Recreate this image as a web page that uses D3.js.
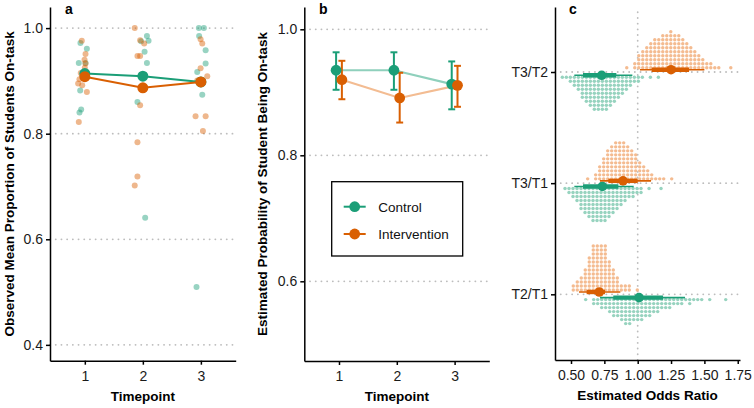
<!DOCTYPE html>
<html>
<head>
<meta charset="utf-8">
<script src="https://cdn.jsdelivr.net/npm/d3@7"></script>
<style>
  body { margin: 0; background: #fff; }
  svg { font-family: "Liberation Sans", Arial, sans-serif; }
  .axis path, .axis line { stroke: #000; stroke-width: 1.5; }
  .axis text { fill: #1a1a1a; font-size: 14px; }
  .title { font-weight: bold; font-size: 13.5px; fill: #000; }
  .tag { font-weight: bold; font-size: 14px; fill: #000; }
  .grid { stroke: #bdbdbd; stroke-width: 1.8; stroke-dasharray: 0.1 5.6; stroke-linecap: round; }
</style>
</head>
<body>
<svg id="chart" width="754" height="408"></svg>
<script>
// ---- data ----
const timepoints = [1, 2, 3];
const groups = ['Control', 'Intervention'];

// panel a: observed means per timepoint
const obsMeanControl = [0.914, 0.909, 0.898];
const obsMeanIntervention = [0.908, 0.887, 0.898];
const obsTicks = [0.4, 0.6, 0.8, 1.0];

// panel a: individual observations [jittered timepoint, proportion]
const obsControl = [
  [0.925, 0.972], [1.035, 0.961], [0.896, 0.934], [1.012, 0.934], [0.92, 0.882], [0.937, 0.846], [0.908, 0.840],
  [2.07, 0.985], [2.098, 0.976], [1.97, 0.975], [2.03, 0.955], [2.07, 0.934], [1.907, 0.860], [2.04, 0.641],
  [2.965, 1.0], [3.052, 1.0], [2.97, 0.985], [3.082, 0.958], [3.082, 0.933], [2.937, 0.917], [3.024, 0.874], [2.925, 0.5095]
];
const obsIntervention = [
  [0.948, 0.976], [1.012, 0.951], [0.995, 0.94], [1.012, 0.933], [0.908, 0.903], [0.885, 0.895], [0.955, 0.892],
  [1.035, 0.879], [0.896, 0.822], [0.93, 0.915], [1.0, 0.925],
  [1.86, 1.0], [1.953, 0.977], [2.023, 0.971], [1.907, 0.947], [1.953, 0.947], [1.953, 0.854], [1.907, 0.784],
  [1.907, 0.719], [1.86, 0.702],
  [2.995, 0.979], [3.024, 0.971], [2.995, 0.924], [3.11, 0.909], [2.937, 0.901], [2.908, 0.833], [3.082, 0.833], [3.035, 0.805]
];

// panel b: model estimates with CI
const estControl = [0.935, 0.935, 0.913];
const estControlLo = [0.904, 0.904, 0.873];
const estControlHi = [0.9635, 0.9635, 0.949];
const estIntervention = [0.920, 0.891, 0.911];
const estInterventionLo = [0.889, 0.852, 0.877];
const estInterventionHi = [0.950, 0.931, 0.942];
const estTicks = [0.6, 0.8, 1.0];

// panel c: odds ratio contrasts (bottom to top)
const contrasts = ['T2/T1', 'T3/T1', 'T3/T2'];
const orControl = [1.01, 0.735, 0.73];
const orControl66 = [[0.817, 1.19], [0.59, 0.855], [0.59, 0.84]];
const orControl95 = [[0.717, 1.355], [0.525, 0.97], [0.525, 0.96]];
const orIntervention = [0.712, 0.89, 1.25];
const orIntervention66 = [[0.617, 0.755], [0.78, 1.0], [1.105, 1.385]];
const orIntervention95 = [[0.56, 0.87], [0.717, 1.10], [1.017, 1.5]];
const orTicks = [0.5, 0.75, 1.0, 1.25, 1.5, 1.75];

// panel c: quantile dotplot columns (first column value, dots per column)
const dotBinWidth = 0.03;
const dotStartControl = [0.61, 0.455, 0.435];
const dotCountsControl = [
  [1, 0, 2, 2, 3, 3, 4, 5, 5, 6, 7, 7, 6, 6, 6, 5, 5, 4, 4, 3, 3, 3, 2, 2, 2, 1, 2, 1, 1, 1, 0, 1, 0, 0, 0, 1],
  [1, 2, 3, 4, 6, 7, 8, 9, 9, 9, 9, 8, 7, 6, 5, 4, 3, 3, 2, 2, 0, 1, 0, 0, 1],
  [1, 1, 2, 3, 4, 6, 7, 8, 9, 9, 9, 9, 8, 7, 6, 5, 4, 3, 2, 2, 1, 0, 1, 0, 1]
];
const dotStartIntervention = [0.517, 0.625, 0.918];
const dotCountsIntervention = [
  [2, 3, 4, 6, 9, 12, 12, 12, 12, 8, 6, 4, 2, 2, 2, 0, 1],
  [1, 0, 2, 4, 6, 8, 9, 10, 10, 10, 9, 8, 7, 5, 4, 3, 2, 1, 1, 1, 0, 1],
  [1, 0, 2, 4, 5, 6, 7, 8, 8, 9, 9, 10, 9, 9, 8, 7, 6, 5, 4, 3, 2, 2, 1, 1, 0, 0, 1]
];

// ---- drawing ----
const green = '#1B9E77';
const orange = '#D95F02';
const svg = d3.select('#chart');

function hGrid(g, xs, ys, vals) {
  g.append('g').selectAll('line').data(vals).join('line')
    .attr('class', 'grid')
    .attr('x1', xs.range()[0]).attr('x2', xs.range()[1])
    .attr('y1', (d) => ys(d)).attr('y2', (d) => ys(d));
}

function axes(g, xs, ys, xAxis, yAxis) {
  g.append('g').attr('class', 'axis')
    .attr('transform', `translate(0, ${ys.range()[0]})`)
    .call(xAxis.tickSize(4).tickSizeOuter(0).tickPadding(6));
  g.append('g').attr('class', 'axis')
    .attr('transform', `translate(${xs.range()[0]}, 0)`)
    .call(yAxis.tickSize(4).tickSizeOuter(0).tickPadding(3));
}

// ===== panel a =====
const ax = d3.scaleLinear().domain([0.4, 3.6]).range([50, 235.7]);
const ay = d3.scaleLinear().domain([0.37, 1.04]).range([360.7, 7]);
const pa = svg.append('g');
hGrid(pa, ax, ay, obsTicks);

pa.append('g').selectAll('circle').data(obsControl).join('circle')
  .attr('cx', (d) => ax(d[0])).attr('cy', (d) => ay(d[1])).attr('r', 3)
  .attr('fill', green).attr('fill-opacity', 0.45);
pa.append('g').selectAll('circle').data(obsIntervention).join('circle')
  .attr('cx', (d) => ax(d[0])).attr('cy', (d) => ay(d[1])).attr('r', 3)
  .attr('fill', orange).attr('fill-opacity', 0.45);

const meanLine = d3.line().x((d, i) => ax(timepoints[i])).y((d) => ay(d));
[[obsMeanControl, green], [obsMeanIntervention, orange]].forEach(([vals, col]) => {
  pa.append('path').attr('d', meanLine(vals)).attr('fill', 'none')
    .attr('stroke', col).attr('stroke-width', 2);
  pa.append('g').selectAll('circle').data(vals).join('circle')
    .attr('cx', (d, i) => ax(timepoints[i])).attr('cy', (d) => ay(d)).attr('r', 5.5)
    .attr('fill', col);
});

axes(pa, ax, ay,
  d3.axisBottom(ax).tickValues(timepoints).tickFormat(d3.format('d')),
  d3.axisLeft(ay).tickValues(obsTicks).tickFormat(d3.format('.1f')));

pa.append('text').attr('class', 'title').attr('text-anchor', 'middle')
  .attr('transform', `translate(13.5, ${ (ay.range()[0] + ay.range()[1]) / 2 }) rotate(-90)`)
  .text('Observed Mean Proportion of Students On-task');
pa.append('text').attr('class', 'title').attr('text-anchor', 'middle')
  .attr('x', (ax.range()[0] + ax.range()[1]) / 2).attr('y', 401).text('Timepoint');
pa.append('text').attr('class', 'tag').attr('x', 65).attr('y', 14).text('a');

// ===== panel b =====
const bx = d3.scaleLinear().domain([0.4, 3.6]).range([304.3, 489.3]);
const by = d3.scaleLinear().domain([0.4735, 1.0354]).range([361, 7]);
const pb = svg.append('g');
hGrid(pb, bx, by, estTicks);

const dodge = 0.05;
const bSeries = [
  { name: groups[0], col: green, light: '#8fd0bc', off: -dodge, est: estControl, lo: estControlLo, hi: estControlHi },
  { name: groups[1], col: orange, light: '#f3bc92', off: dodge, est: estIntervention, lo: estInterventionLo, hi: estInterventionHi }
];
bSeries.forEach((s) => {
  const line = d3.line().x((d, i) => bx(timepoints[i] + s.off)).y((d) => by(d));
  pb.append('path').attr('d', line(s.est)).attr('fill', 'none')
    .attr('stroke', s.light).attr('stroke-width', 2.2);
});
bSeries.forEach((s) => {
  const g = pb.append('g').attr('stroke', s.col).attr('stroke-width', 2);
  timepoints.forEach((t, i) => {
    const x0 = bx(t + s.off - 0.06), x1 = bx(t + s.off + 0.06), xm = bx(t + s.off);
    g.append('line').attr('x1', xm).attr('x2', xm).attr('y1', by(s.lo[i])).attr('y2', by(s.hi[i]));
    g.append('line').attr('x1', x0).attr('x2', x1).attr('y1', by(s.lo[i])).attr('y2', by(s.lo[i]));
    g.append('line').attr('x1', x0).attr('x2', x1).attr('y1', by(s.hi[i])).attr('y2', by(s.hi[i]));
  });
});
bSeries.forEach((s) => {
  pb.append('g').selectAll('circle').data(s.est).join('circle')
    .attr('cx', (d, i) => bx(timepoints[i] + s.off)).attr('cy', (d) => by(d)).attr('r', 5.4)
    .attr('fill', s.col);
});

axes(pb, bx, by,
  d3.axisBottom(bx).tickValues(timepoints).tickFormat(d3.format('d')),
  d3.axisLeft(by).tickValues(estTicks).tickFormat(d3.format('.1f')));

pb.append('text').attr('class', 'title').attr('text-anchor', 'middle')
  .attr('transform', `translate(267, ${ (by.range()[0] + by.range()[1]) / 2 }) rotate(-90)`)
  .text('Estimated Probability of Student Being On-task');
pb.append('text').attr('class', 'title').attr('text-anchor', 'middle')
  .attr('x', (bx.range()[0] + bx.range()[1]) / 2).attr('y', 401).text('Timepoint');
pb.append('text').attr('class', 'tag').attr('x', 319).attr('y', 14).text('b');

// legend
const lg = pb.append('g').attr('transform', 'translate(331.7, 181.7)');
lg.append('rect').attr('width', 131).attr('height', 74.3)
  .attr('fill', '#fff').attr('stroke', '#000').attr('stroke-width', 1.3);
bSeries.forEach((s, i) => {
  const yy = 25 + i * 27.3;
  lg.append('line').attr('x1', 12).attr('x2', 34).attr('y1', yy).attr('y2', yy)
    .attr('stroke', s.col).attr('stroke-width', 2);
  lg.append('circle').attr('cx', 23).attr('cy', yy).attr('r', 5.4).attr('fill', s.col);
  lg.append('text').attr('x', 46.6).attr('y', yy).attr('dy', '0.36em')
    .attr('font-size', 13.5).attr('fill', '#111').text(s.name);
});

// ===== panel c =====
const cx = d3.scaleLinear().domain([0.38, 1.767]).range([555, 740]);
const cy = d3.scaleLinear().domain([-0.591, 2.585]).range([360, 7]);
const pc = svg.append('g');

pc.append('line').attr('class', 'grid')
  .attr('x1', cx(1)).attr('x2', cx(1)).attr('y1', cy.range()[0]).attr('y2', cy.range()[1]);
pc.append('g').selectAll('line').data(contrasts).join('line')
  .attr('class', 'grid')
  .attr('x1', cx.range()[0]).attr('x2', cx.range()[1])
  .attr('y1', (d, i) => cy(i)).attr('y2', (d, i) => cy(i));

function drawDots(start, counts, base, dir, color) {
  const pts = [];
  counts.forEach((n, j) => {
    for (let k = 0; k < n; k++) pts.push({ v: start + j * dotBinWidth, k });
  });
  const step = cx(start + dotBinWidth) - cx(start);
  pc.append('g').selectAll('circle').data(pts).join('circle')
    .attr('cx', (d) => cx(d.v))
    .attr('cy', (d) => base + dir * (d.k + 0.5) * step)
    .attr('r', step * 0.43)
    .attr('fill', color);
}

const cSeries = [
  { col: orange, light: '#f4bb90', off: -2.3, dir: -1, start: dotStartIntervention, counts: dotCountsIntervention,
    est: orIntervention, i66: orIntervention66, i95: orIntervention95 },
  { col: green, light: '#97d3bf', off: 3.3, dir: 1, start: dotStartControl, counts: dotCountsControl,
    est: orControl, i66: orControl66, i95: orControl95 }
];
contrasts.forEach((c, i) => {
  cSeries.forEach((s) => drawDots(s.start[i], s.counts[i], cy(i) + s.off, s.dir, s.light));
});
contrasts.forEach((c, i) => {
  cSeries.forEach((s) => {
    const yy = cy(i) + s.off;
    pc.append('line').attr('x1', cx(s.i95[i][0])).attr('x2', cx(s.i95[i][1]))
      .attr('y1', yy).attr('y2', yy).attr('stroke', s.col).attr('stroke-width', 1.6);
    pc.append('line').attr('x1', cx(s.i66[i][0])).attr('x2', cx(s.i66[i][1]))
      .attr('y1', yy).attr('y2', yy).attr('stroke', s.col).attr('stroke-width', 4.4);
    pc.append('circle').attr('cx', cx(s.est[i])).attr('cy', yy).attr('r', 4.8).attr('fill', s.col);
  });
});

axes(pc, cx, cy,
  d3.axisBottom(cx).tickValues(orTicks).tickFormat(d3.format('.2f')),
  d3.axisLeft(cy).tickValues([0, 1, 2]).tickFormat((d) => contrasts[d]));

pc.append('text').attr('class', 'title').attr('text-anchor', 'middle')
  .attr('x', (cx.range()[0] + cx.range()[1]) / 2).attr('y', 400).text('Estimated Odds Ratio');
pc.append('text').attr('class', 'tag').attr('x', 569).attr('y', 14).text('c');
</script>
</body>
</html>
